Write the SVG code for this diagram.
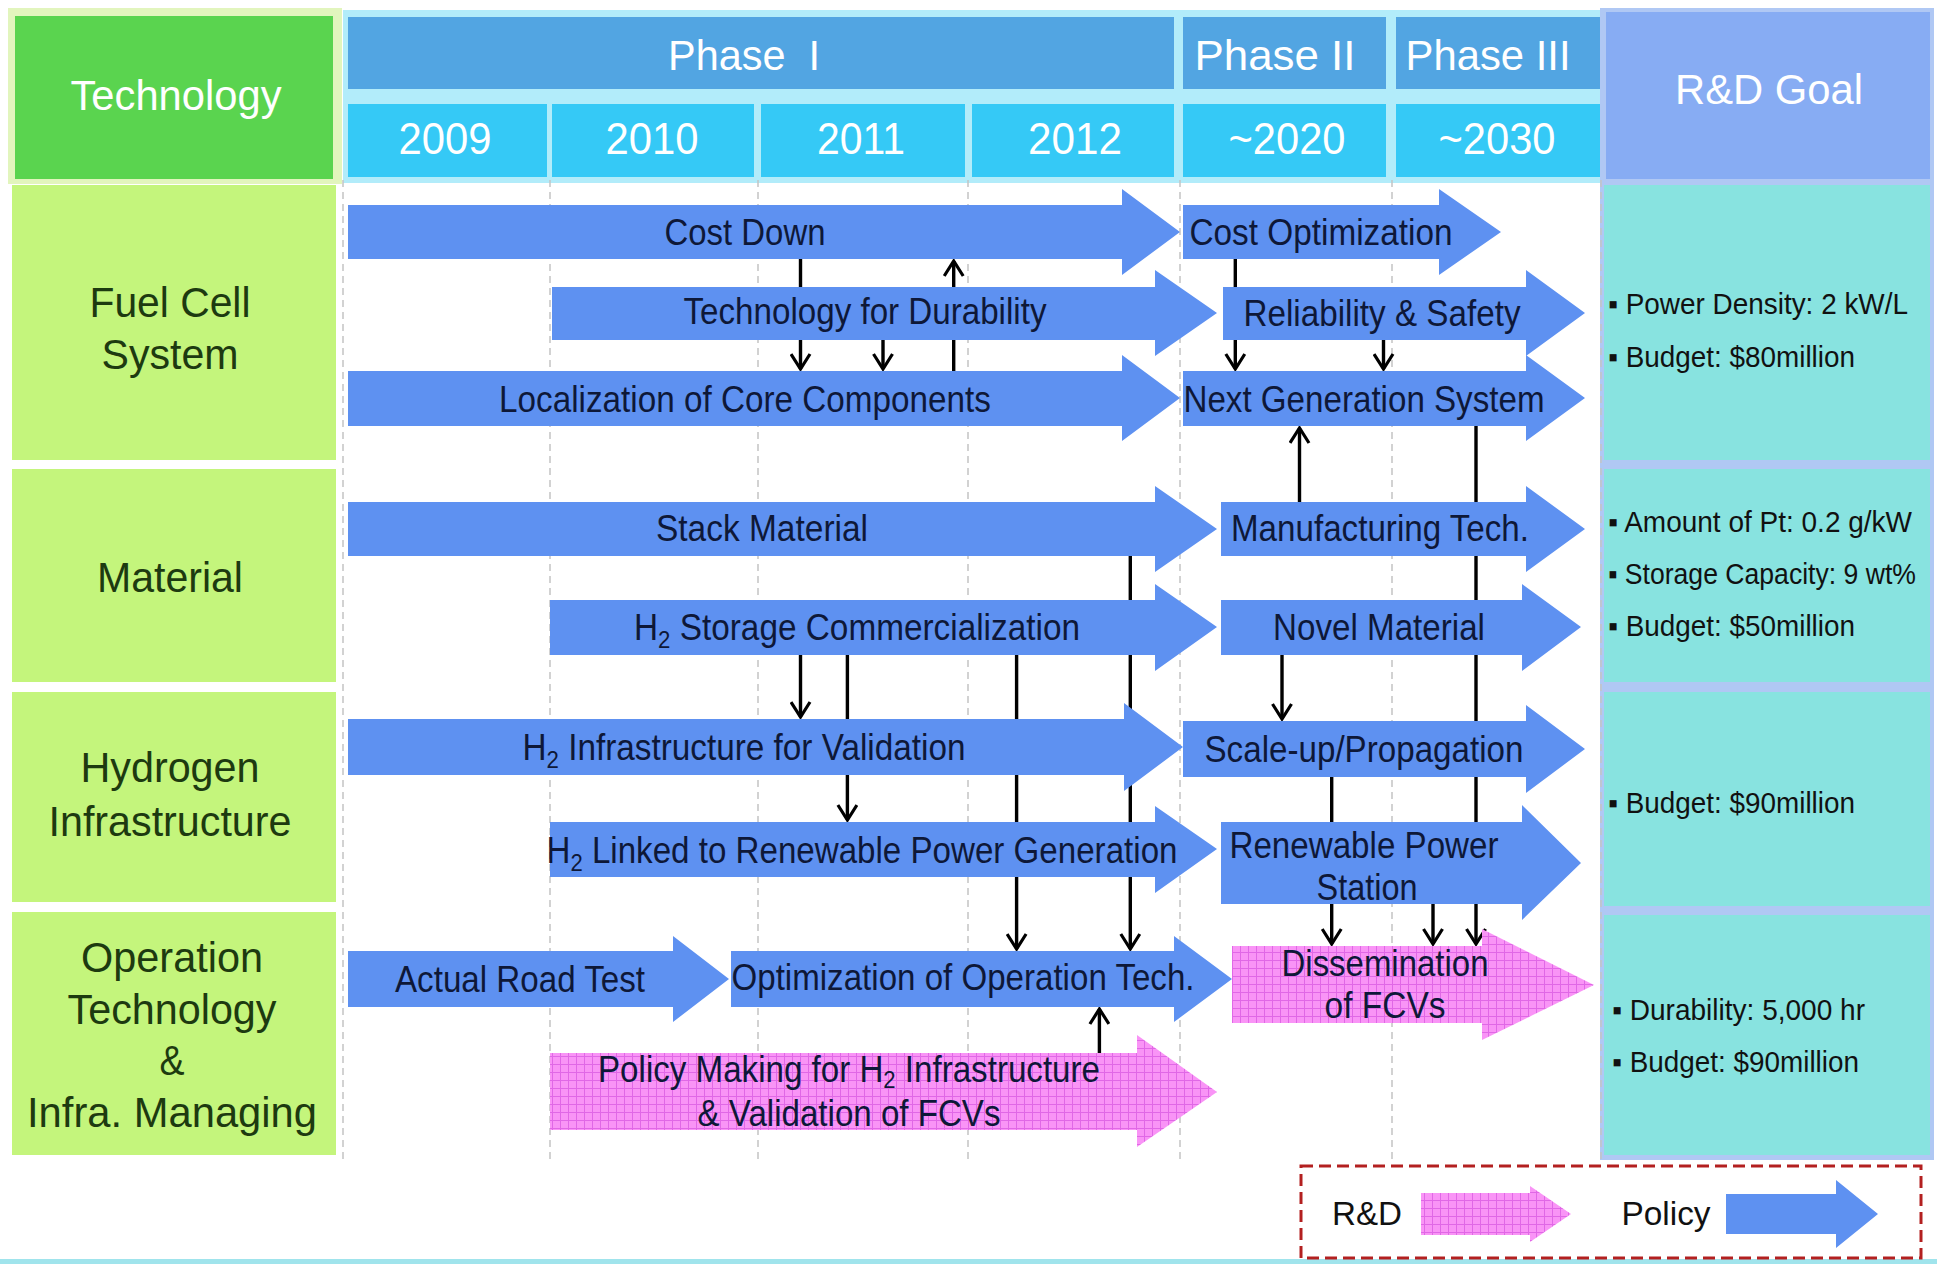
<svg xmlns="http://www.w3.org/2000/svg" width="1937" height="1264" viewBox="0 0 1937 1264">
<style>
text{font-family:"Liberation Sans",Arial,sans-serif}
.hd{fill:#fff;font-size:42px;text-anchor:middle}
.yr{fill:#fff;font-size:44px;text-anchor:middle}
.lc{fill:#1d3a10;font-size:42px;text-anchor:middle}
.at{fill:#0e1838;font-size:36px;text-anchor:middle}
.gt{fill:#111;font-size:29px}
.lg{fill:#111;font-size:34px;text-anchor:middle}
.blue{fill:#5e91f1}
.pink{fill:url(#grid)}
.grid{stroke:#c4c4c4;stroke-width:1.5;stroke-dasharray:7 5;fill:none}
.con{stroke:#000;stroke-width:3.4;fill:none}
.arr{marker-end:url(#v)}
</style>
<defs>
<pattern id="grid" width="8" height="8" patternUnits="userSpaceOnUse">
<rect width="8" height="8" fill="#f994f6"/>
<path d="M0,0.5H8M0.5,0V8" stroke="#e068e6" stroke-width="1"/>
</pattern>
<marker id="v" viewBox="0 0 22 22" refX="18" refY="11" markerWidth="22" markerHeight="22" orient="auto" markerUnits="userSpaceOnUse">
<path d="M3,1.5 L18,11 L3,20.5" fill="none" stroke="#000" stroke-width="3.2"/>
</marker>
</defs>
<rect width="1937" height="1264" fill="#fff"/>
<rect x="0" y="1259" width="1937" height="5" fill="#a0e4ec"/>

<!-- header -->
<g id="header">
<rect x="8" y="8" width="334" height="176" fill="#e2f5bd"/>
<rect x="15" y="16" width="318" height="163" fill="#5ad44f"/>
<text class="hd" x="176" y="110" textLength="211" lengthAdjust="spacingAndGlyphs">Technology</text>
<rect x="343" y="10" width="1262" height="173" fill="#b2ecfa"/>
<rect x="348" y="17" width="826" height="72" fill="#52a5e2"/>
<rect x="1183" y="17" width="203" height="72" fill="#52a5e2"/>
<rect x="1396" y="17" width="204" height="72" fill="#52a5e2"/>
<text class="hd" x="744" y="70" textLength="152" lengthAdjust="spacingAndGlyphs" xml:space="preserve">Phase  I</text>
<text class="hd" x="1275" y="70" textLength="161" lengthAdjust="spacingAndGlyphs">Phase II</text>
<text class="hd" x="1488" y="70" textLength="165" lengthAdjust="spacingAndGlyphs">Phase III</text>
<rect x="348" y="104" width="199" height="73" fill="#35c9f6"/>
<rect x="552" y="104" width="202" height="73" fill="#35c9f6"/>
<rect x="761" y="104" width="204" height="73" fill="#35c9f6"/>
<rect x="972" y="104" width="202" height="73" fill="#35c9f6"/>
<rect x="1183" y="104" width="203" height="73" fill="#35c9f6"/>
<rect x="1396" y="104" width="204" height="73" fill="#35c9f6"/>
<text class="yr" x="445" y="154" textLength="93" lengthAdjust="spacingAndGlyphs">2009</text>
<text class="yr" x="652" y="154" textLength="93" lengthAdjust="spacingAndGlyphs">2010</text>
<text class="yr" x="861" y="154" textLength="88" lengthAdjust="spacingAndGlyphs">2011</text>
<text class="yr" x="1075" y="154" textLength="94" lengthAdjust="spacingAndGlyphs">2012</text>
<text class="yr" x="1287" y="154" textLength="117" lengthAdjust="spacingAndGlyphs">~2020</text>
<text class="yr" x="1497" y="154" textLength="117" lengthAdjust="spacingAndGlyphs">~2030</text>
<rect x="1600" y="8" width="334" height="1152" fill="#b0c8f4"/>
<rect x="1606" y="12" width="324" height="167" fill="#87acf3"/>
<text class="hd" x="1769" y="104" textLength="188" lengthAdjust="spacingAndGlyphs">R&amp;D Goal</text>
</g>

<!-- grid lines -->
<g id="gridlines">
<path class="grid" d="M343,180V1160M550,180V1160M758,180V1160M968,180V1160M1180,180V1160M1392,180V1160M1601,180V1160"/>
</g>

<!-- left categories -->
<g id="cat-fuel-cell">
<rect x="12" y="185" width="324" height="275" fill="#c4f57c"/>
<text class="lc" x="170" y="317" textLength="161" lengthAdjust="spacingAndGlyphs">Fuel Cell</text>
<text class="lc" x="170" y="369" textLength="137" lengthAdjust="spacingAndGlyphs">System</text>
</g>
<g id="cat-material">
<rect x="12" y="469" width="324" height="213" fill="#c4f57c"/>
<text class="lc" x="170" y="592" textLength="146" lengthAdjust="spacingAndGlyphs">Material</text>
</g>
<g id="cat-hydrogen">
<rect x="12" y="692" width="324" height="210" fill="#c4f57c"/>
<text class="lc" x="170" y="782" textLength="179" lengthAdjust="spacingAndGlyphs">Hydrogen</text>
<text class="lc" x="170" y="836" textLength="243" lengthAdjust="spacingAndGlyphs">Infrastructure</text>
</g>
<g id="cat-operation">
<rect x="12" y="912" width="324" height="243" fill="#c4f57c"/>
<text class="lc" x="172" y="972" textLength="182" lengthAdjust="spacingAndGlyphs">Operation</text>
<text class="lc" x="172" y="1024" textLength="209" lengthAdjust="spacingAndGlyphs">Technology</text>
<text class="lc" x="172" y="1075" textLength="25" lengthAdjust="spacingAndGlyphs">&amp;</text>
<text class="lc" x="172" y="1127" textLength="290" lengthAdjust="spacingAndGlyphs">Infra. Managing</text>
</g>

<!-- goals -->
<g id="goal-fuel-cell">
<rect x="1604" y="185" width="326" height="275" fill="#88e3e0"/>
<text class="gt" x="1608" y="314" textLength="300" lengthAdjust="spacingAndGlyphs">▪ Power Density: 2 kW/L</text>
<text class="gt" x="1608" y="367" textLength="247" lengthAdjust="spacingAndGlyphs">▪ Budget: $80million</text>
</g>
<g id="goal-material">
<rect x="1604" y="469" width="326" height="213" fill="#88e3e0"/>
<text class="gt" x="1608" y="532" textLength="304" lengthAdjust="spacingAndGlyphs">▪ Amount of Pt: 0.2 g/kW</text>
<text class="gt" x="1608" y="584" font-size="27" textLength="308" lengthAdjust="spacingAndGlyphs">▪ Storage Capacity: 9 wt%</text>
<text class="gt" x="1608" y="636" textLength="247" lengthAdjust="spacingAndGlyphs">▪ Budget: $50million</text>
</g>
<g id="goal-hydrogen">
<rect x="1604" y="692" width="326" height="214" fill="#88e3e0"/>
<text class="gt" x="1608" y="813" textLength="247" lengthAdjust="spacingAndGlyphs">▪ Budget: $90million</text>
</g>
<g id="goal-operation">
<rect x="1604" y="915" width="326" height="240" fill="#88e3e0"/>
<text class="gt" x="1612" y="1020" textLength="253" lengthAdjust="spacingAndGlyphs">▪ Durability: 5,000 hr</text>
<text class="gt" x="1612" y="1072" textLength="247" lengthAdjust="spacingAndGlyphs">▪ Budget: $90million</text>
</g>

<!-- connectors -->
<g id="connectors">
<path class="con arr" d="M800.5,259V369"/>
<path class="con arr" d="M883,340V369"/>
<path class="con arr" d="M953.7,371V261"/>
<path class="con arr" d="M1235.3,259V369"/>
<path class="con arr" d="M1383.5,340V369"/>
<path class="con arr" d="M1299.5,502V428"/>
<path class="con arr" d="M1476,426V944"/>
<path class="con arr" d="M1331.7,777V944"/>
<path class="con arr" d="M1433,904V944"/>
<path class="con arr" d="M1282,655V719"/>
<path class="con arr" d="M1130.3,556V949"/>
<path class="con arr" d="M1016.6,655V949"/>
<path class="con arr" d="M800.5,655V717"/>
<path class="con arr" d="M847.4,655V820"/>
<path class="con arr" d="M1099.4,1060V1009"/>
</g>

<!-- arrow nodes -->
<g id="cost-down"><polygon class="blue" points="348,205 1122,205 1122,189 1180,232 1122,275 1122,259 348,259"/>
<text class="at" x="745" y="245" textLength="161" lengthAdjust="spacingAndGlyphs">Cost Down</text></g>
<g id="cost-optimization"><polygon class="blue" points="1183,205 1439,205 1439,189 1501,232 1439,275 1439,259 1183,259"/>
<text class="at" x="1321" y="245" textLength="263" lengthAdjust="spacingAndGlyphs">Cost Optimization</text></g>
<g id="tech-durability"><polygon class="blue" points="552,287 1155,287 1155,270 1217,313 1155,356 1155,340 552,340"/>
<text class="at" x="865" y="324" textLength="363" lengthAdjust="spacingAndGlyphs">Technology for Durability</text></g>
<g id="reliability-safety"><polygon class="blue" points="1223,287 1526,287 1526,270 1585,313 1526,356 1526,340 1223,340"/>
<text class="at" x="1382" y="326" textLength="277" lengthAdjust="spacingAndGlyphs">Reliability &amp; Safety</text></g>
<g id="localization"><polygon class="blue" points="348,371 1122,371 1122,355 1180,398 1122,441 1122,426 348,426"/>
<text class="at" x="745" y="412" textLength="492" lengthAdjust="spacingAndGlyphs">Localization of Core Components</text></g>
<g id="next-generation"><polygon class="blue" points="1183,371 1526,371 1526,355 1585,398 1526,441 1526,426 1183,426"/>
<text class="at" x="1364" y="412" textLength="361" lengthAdjust="spacingAndGlyphs">Next Generation System</text></g>
<g id="stack-material"><polygon class="blue" points="348,502 1155,502 1155,486 1217,529 1155,572 1155,556 348,556"/>
<text class="at" x="762" y="541" textLength="212" lengthAdjust="spacingAndGlyphs">Stack Material</text></g>
<g id="manufacturing-tech"><polygon class="blue" points="1221,502 1526,502 1526,486 1585,529 1526,572 1526,556 1221,556"/>
<text class="at" x="1380" y="541" textLength="298" lengthAdjust="spacingAndGlyphs">Manufacturing Tech.</text></g>
<g id="h2-storage"><polygon class="blue" points="550,600 1155,600 1155,584 1217,627 1155,671 1155,655 550,655"/>
<text class="at" x="857" y="640" textLength="446" lengthAdjust="spacingAndGlyphs">H<tspan font-size="24" baseline-shift="-8">2</tspan> Storage Commercialization</text></g>
<g id="novel-material"><polygon class="blue" points="1221,600 1522,600 1522,584 1581,627 1522,671 1522,655 1221,655"/>
<text class="at" x="1379" y="640" textLength="212" lengthAdjust="spacingAndGlyphs">Novel Material</text></g>
<g id="h2-infra-validation"><polygon class="blue" points="348,719 1124,719 1124,703 1183,747 1124,791 1124,775 348,775"/>
<text class="at" x="744" y="760" textLength="443" lengthAdjust="spacingAndGlyphs">H<tspan font-size="24" baseline-shift="-8">2</tspan> Infrastructure for Validation</text></g>
<g id="scale-up"><polygon class="blue" points="1183,721 1526,721 1526,705 1585,749 1526,793 1526,777 1183,777"/>
<text class="at" x="1364" y="762" textLength="319" lengthAdjust="spacingAndGlyphs">Scale-up/Propagation</text></g>
<g id="h2-linked"><polygon class="blue" points="550,822 1155,822 1155,806 1217,849 1155,893 1155,877 550,877"/>
<text class="at" x="862" y="863" textLength="631" lengthAdjust="spacingAndGlyphs">H<tspan font-size="24" baseline-shift="-8">2</tspan> Linked to Renewable Power Generation</text></g>
<g id="renewable-station"><polygon class="blue" points="1221,822 1522,822 1522,805 1581,863 1522,920 1522,904 1221,904"/>
<text class="at" x="1364" y="858" textLength="269" lengthAdjust="spacingAndGlyphs">Renewable Power</text>
<text class="at" x="1367" y="900" textLength="101" lengthAdjust="spacingAndGlyphs">Station</text></g>
<g id="road-test"><polygon class="blue" points="348,951 673,951 673,936 729,979 673,1022 673,1007 348,1007"/>
<text class="at" x="520" y="992" textLength="250" lengthAdjust="spacingAndGlyphs">Actual Road Test</text></g>
<g id="optimization-operation"><polygon class="blue" points="731,951 1174,951 1174,936 1232,979 1174,1022 1174,1007 731,1007"/>
<text class="at" x="963" y="990" textLength="463" lengthAdjust="spacingAndGlyphs">Optimization of Operation Tech.</text></g>
<g id="dissemination"><polygon class="pink" points="1232,946 1482,946 1482,929 1594,985 1482,1040 1482,1023 1232,1023"/>
<text class="at" x="1385" y="976" textLength="207" lengthAdjust="spacingAndGlyphs">Dissemination</text>
<text class="at" x="1385" y="1018" textLength="121" lengthAdjust="spacingAndGlyphs">of FCVs</text></g>
<g id="policy-making"><polygon class="pink" points="550,1053 1137,1053 1137,1035 1217,1092 1137,1147 1137,1130 550,1130"/>
<text class="at" x="849" y="1082" textLength="502" lengthAdjust="spacingAndGlyphs">Policy Making for H<tspan font-size="24" baseline-shift="-6">2</tspan> Infrastructure</text>
<text class="at" x="849" y="1126" textLength="303" lengthAdjust="spacingAndGlyphs">&amp; Validation of FCVs</text></g>

<!-- legend -->
<g id="legend">
<rect x="1301" y="1166" width="620" height="92" fill="none" stroke="#b32020" stroke-width="3" stroke-dasharray="12 6"/>
<text class="lg" x="1367" y="1225" textLength="70" lengthAdjust="spacingAndGlyphs">R&amp;D</text>
<polygon class="pink" points="1421,1193 1530,1193 1530,1186 1571,1214 1530,1242 1530,1235 1421,1235"/>
<text class="lg" x="1666" y="1225" textLength="89" lengthAdjust="spacingAndGlyphs">Policy</text>
<polygon class="blue" points="1726,1194 1836,1194 1836,1180 1878,1214 1836,1248 1836,1234 1726,1234"/>
</g>
</svg>
